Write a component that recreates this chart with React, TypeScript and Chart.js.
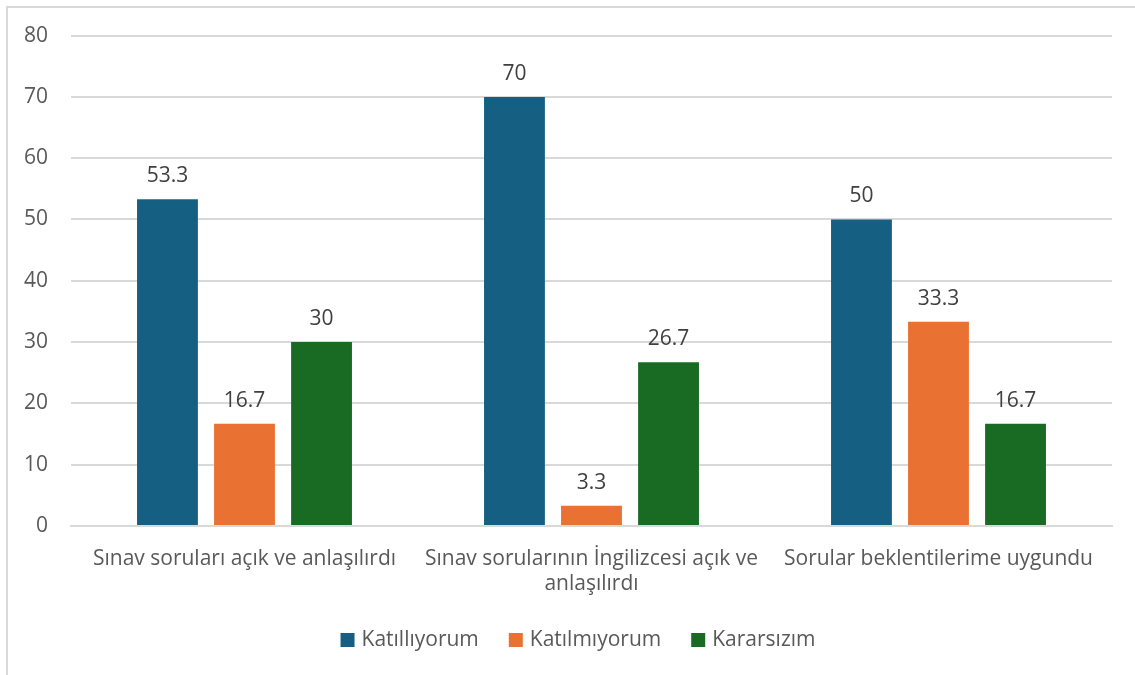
import React, { useEffect, useRef } from "react";
import { Chart, registerables } from "chart.js";

Chart.register(...registerables);

const categories: (string | string[])[] = [
  "Sınav soruları açık ve anlaşılırdı",
  ["Sınav sorularının İngilizcesi açık ve", "anlaşılırdı"],
  "Sorular beklentilerime uygundu",
];
const seriesNames = ["Katıllıyorum", "Katılmıyorum", "Kararsızım"];
const katiliyorum = [53.3, 70, 50];
const katilmiyorum = [16.7, 3.3, 33.3];
const kararsizim = [30, 26.7, 16.7];
const colors = ["#156082", "#E97132", "#196B24"];

const FONT = "'Open Sans', Lato, sans-serif";
const FS = 21;

const valueLabels = {
  id: "valueLabels",
  afterDatasetsDraw(chart: any) {
    const ctx = chart.ctx;
    ctx.save();
    ctx.font = `${FS}px ${FONT}`;
    ctx.fillStyle = "#404040";
    ctx.textAlign = "center";
    ctx.textBaseline = "middle";
    chart.data.datasets.forEach((ds: any, i: number) => {
      const meta = chart.getDatasetMeta(i);
      meta.data.forEach((bar: any, j: number) => {
        ctx.fillText(String(ds.data[j]), bar.x, bar.y - 23);
      });
    });
    ctx.restore();
  },
};

const customLegend = {
  id: "customLegend",
  afterDraw(chart: any) {
    const ctx = chart.ctx;
    ctx.save();
    ctx.font = `${FS}px ${FONT}`;
    ctx.textBaseline = "middle";
    ctx.textAlign = "left";
    const box = 14;
    const gap = 7;
    const spacing = 30;
    const items = chart.data.datasets.map((ds: any) => ({
      label: ds.label,
      color: ds.backgroundColor,
      w: box + gap + ctx.measureText(ds.label).width,
    }));
    const total = items.reduce((a: number, it: any) => a + it.w, 0) + spacing * (items.length - 1);
    const cx = 578;
    const cy = 640;
    let x = cx - total / 2;
    items.forEach((it: any) => {
      ctx.fillStyle = it.color;
      ctx.fillRect(x, cy - box / 2, box, box);
      ctx.fillStyle = "#595959";
      ctx.fillText(it.label, x + box + gap, cy);
      x += it.w + spacing;
    });
    ctx.restore();
  },
};

export default function App() {
  const ref = useRef<HTMLCanvasElement>(null);
  useEffect(() => {
    const data = [katiliyorum, katilmiyorum, kararsizim];
    const chart = new Chart(ref.current!, {
      type: "bar",
      data: {
        labels: categories,
        datasets: seriesNames.map((n, i) => ({
          label: n,
          data: data[i],
          backgroundColor: colors[i],
          categoryPercentage: 0.666,
          barPercentage: 0.79,
        })),
      },
      options: {
        animation: false,
        responsive: false,
        maintainAspectRatio: false,
        layout: { padding: { top: 30, right: 23, left: 0, bottom: 75 } },
        plugins: {
          legend: { display: false },
          tooltip: { enabled: false },
        },
        scales: {
          x: {
            grid: { display: false, drawTicks: false },
            border: { display: true, color: "#d9d9d9", width: 2 },
            ticks: {
              color: "#595959",
              font: { family: FONT, size: FS, lineHeight: 1.2 },
              padding: 20,
              maxRotation: 0,
              autoSkip: false,
            },
            afterFit: (s: any) => {
              s.height = 74;
            },
          },
          y: {
            min: 0,
            max: 80,
            grid: { color: "#d9d9d9", lineWidth: 2, drawTicks: false },
            border: { display: false },
            ticks: {
              stepSize: 10,
              color: "#595959",
              font: { family: FONT, size: FS },
              padding: 23,
            },
            afterFit: (s: any) => {
              s.width = 71;
            },
          },
        },
      },
      plugins: [valueLabels, customLegend],
    });
    return () => chart.destroy();
  }, []);
  return (
    <div style={{ position: "fixed", left: 0, top: 0, width: 1135, height: 675, background: "#fff" }}>
      <div
        style={{
          position: "absolute",
          left: 6,
          top: 6,
          width: 1140,
          height: 680,
          borderLeft: "2px solid #d9d9d9",
          borderTop: "2px solid #d9d9d9",
        }}
      />
      <canvas ref={ref} width={1135} height={675} style={{ position: "absolute", left: 0, top: 0 }} />
    </div>
  );
}
